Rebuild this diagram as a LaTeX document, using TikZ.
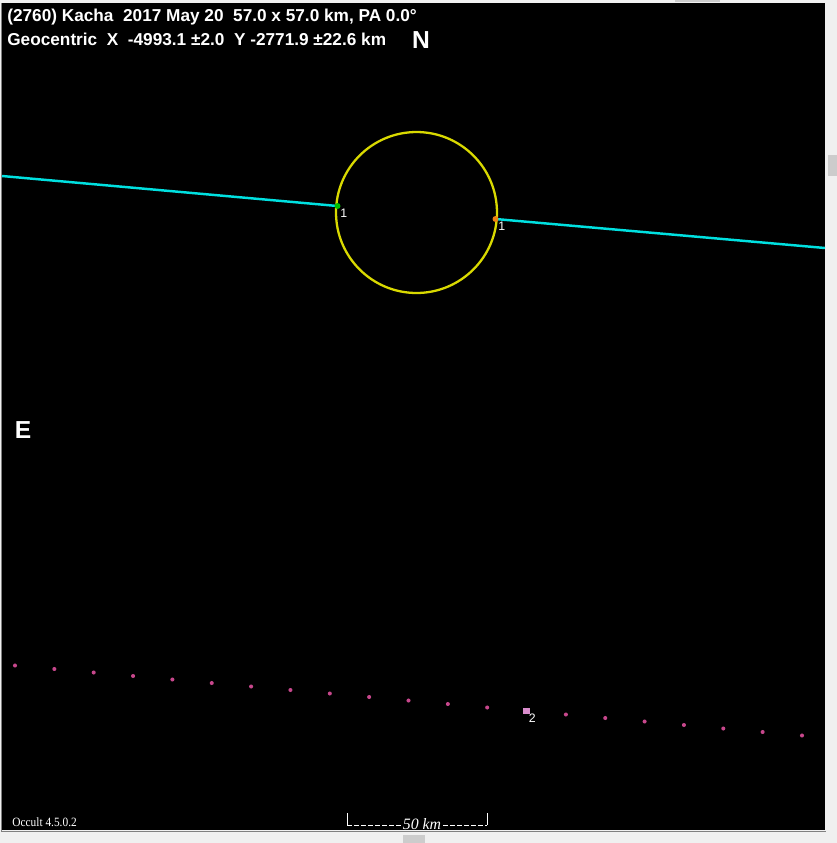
\documentclass[tikz,border=0pt]{standalone}
\usepackage{fontspec}
\setmainfont{Liberation Sans}
\newfontfamily\smallserif{Liberation Serif}
\definecolor{plotbg}{rgb}{0,0,0}
\definecolor{winbg}{rgb}{0.941,0.941,0.941}
\definecolor{thumbgray}{rgb}{0.80,0.80,0.80}
\definecolor{shapeyel}{rgb}{0.85,0.85,0.0}
\definecolor{chordcyan}{rgb}{0.0,0.88,0.88}
\definecolor{dotpink}{rgb}{0.78,0.28,0.55}
\definecolor{sqpink}{rgb}{0.85,0.55,0.80}
\tikzset{
  headtxt/.style={text=white,font=\bfseries\fontsize{9.8}{10}\selectfont,inner sep=0pt,anchor=west},
  dirtxt/.style={text=white,font=\bfseries\fontsize{14}{14}\selectfont,inner sep=0pt},
  numtxt/.style={text=white,font=\fontsize{7}{7}\selectfont,inner sep=0pt,anchor=north west},
  pinkdot/.style={circle,fill=dotpink,inner sep=0pt,minimum size=2.3pt},
  chord/.style={chordcyan,line width=1.4pt}
}
\begin{document}
\begin{tikzpicture}[x=0.02cm,y=-0.02cm]
  \useasboundingbox (0,0) rectangle (837,843);
  {
  % Window frame and scroll bars
  \fill [winbg] (0,0) rectangle (837,843);%
  \fill [plotbg] (2,3) rectangle (825,830);%
  \draw [gray,line width=0.4pt] (1,3) -- (1,831) -- (826,831);%
  \fill [thumbgray] (828,155) rectangle (837,176);%
  \fill [thumbgray] (403,835) rectangle (425,843);%
  \fill [thumbgray] (675,0) rectangle (720,2);%

  % Marking the outline of the asteroid
  \node [draw=shapeyel,line width=1.3pt,circle,minimum size=3.22cm,inner sep=0pt] (shape) at (416.5,212.5) {};%

  % Marking the chord end points
  \coordinate (west) at (2,176);%
  \coordinate (d1) at (337.5,206);%
  \coordinate (r1) at (495.5,219);%
  \coordinate (east) at (825,248);%

  % Drawing chord 1
  \draw [chord] (west) -- (d1);%
  \draw [chord] (r1) -- (east);%
  \fill [green!75!black] (d1) circle (3);%
  \fill [orange!70!brown] (r1) circle (3);%
  \node [numtxt] (lab1a) at (340,209) {1};%
  \node [numtxt] (lab1b) at (498,222) {1};%

  % Marking the miss chord 2 by dots
  \foreach \i in {0,...,20} {
    \ifnum\i=13\else
      \node [pinkdot] (m\i) at ({15+39.35*\i},{665.5+3.5*\i}) {};%
    \fi
  }
  \node [fill=sqpink,inner sep=0pt,minimum size=3.6pt] (m13) at (526.5,711) {};%
  \node [numtxt] (lab2) at (528.5,714) {2};%

  % Header texts
  \node [headtxt] (title) at (7,17) {(2760) Kacha\ \ 2017 May 20\ \ 57.0 x 57.0 km, PA 0.0°};%
  \node [headtxt] (geo) at (7,39) {Geocentric\ \ X\ \ -4993.1 ±2.0\ \ Y -2771.9 ±22.6 km};%
  \node [dirtxt] (north) at (421,40) {N};%
  \node [dirtxt] (east) at (23,430) {E};%

  % Footer texts and scale bar
  \node [text=white,font=\smallserif\fontsize{7.2}{7}\selectfont,inner sep=0pt,anchor=west,xscale=0.9] (ver) at (12,822) {Occult 4.5.0.2};%
  \node [text=white,font=\smallserif\itshape\fontsize{9}{9}\selectfont,inner sep=1pt] (scale) at (422,824) {50 km};%
  \draw [white,line width=0.5pt] (347,813) -- (347,825);%
  \draw [white,line width=0.5pt,dash pattern=on 2.6pt off 1.4pt] (347,825) -- (scale.west |- 347,825);%
  \draw [white,line width=0.5pt,dash pattern=on 2.6pt off 1.4pt] (scale.east |- 487,825) -- (487,825);%
  \draw [white,line width=0.5pt] (487,825) -- (487,813);%
  }
\end{tikzpicture}
\end{document}
